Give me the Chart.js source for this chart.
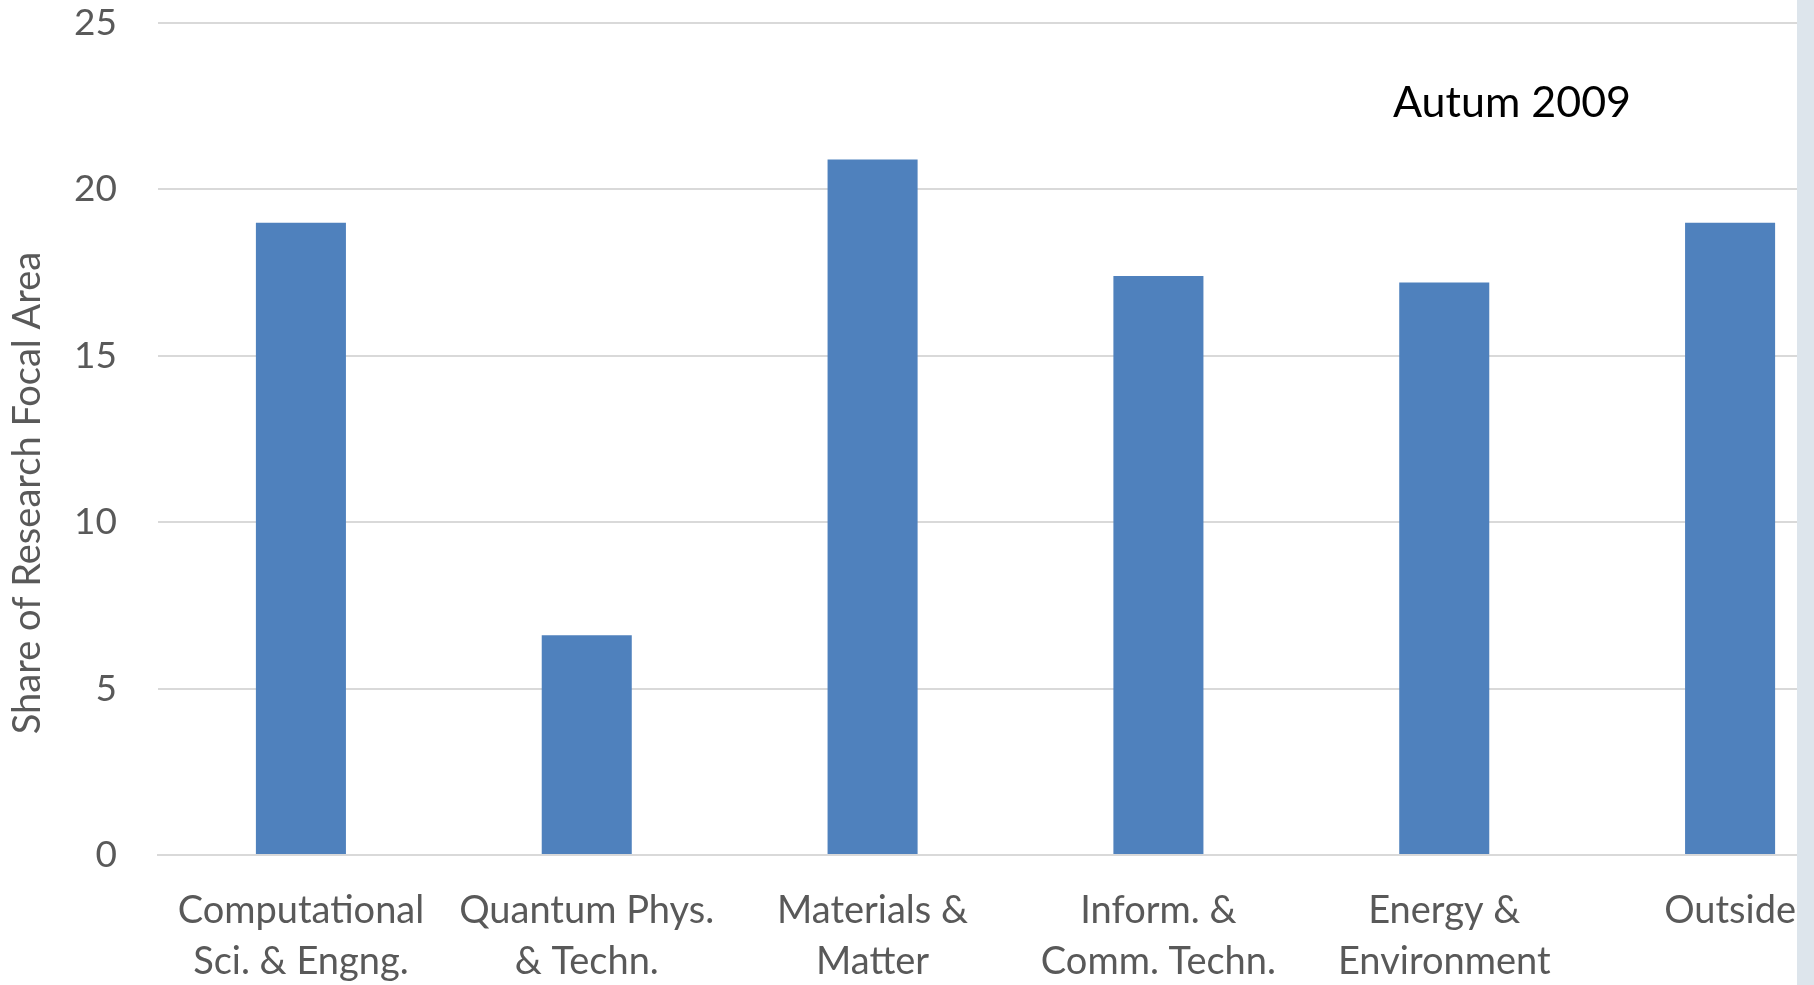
<!DOCTYPE html>
<html>
<head>
<meta charset="utf-8">
<title>Share of Research Focal Area – Autum 2009</title>
<script src="https://cdn.jsdelivr.net/npm/chart.js@4.4.1/dist/chart.umd.min.js"></script>
<style>
  html, body { margin: 0; padding: 0; background: #ffffff; overflow: hidden; }
  #wrap { position: relative; width: 1873px; height: 985px; }
  #edge { position: absolute; left: 1797px; top: 0; width: 17px; height: 985px; background: #dde5ec; }
</style>
</head>
<body>
<div id="wrap"><canvas id="chart"></canvas></div>
<div id="edge"></div>
<script>
// Research focal areas (two-line category labels)
const categories = [
  ['Computational', 'Sci. & Engng.'],
  ['Quantum Phys.', '& Techn.'],
  ['Materials &', 'Matter'],
  ['Inform. &', 'Comm. Techn.'],
  ['Energy &', 'Environment'],
  ['Outside']
];
// Share of research focal area, autumn 2009
const shares = [19.0, 6.6, 20.9, 17.4, 17.2, 19.0];
const yTicks = [0, 5, 10, 15, 20, 25];
const yTitle = 'Share of Research Focal Area';
const seasonLabel = 'Autum 2009';

const FONT = 'Lato, "Open Sans", sans-serif';
const TEXT_GREY = '#595959';

// Draws the rotated axis title and the season annotation
const textLayer = {
  id: 'textLayer',
  afterDraw(chart) {
    const ctx = chart.ctx;
    ctx.save();
    ctx.fillStyle = TEXT_GREY;
    ctx.font = '38px ' + FONT;
    ctx.textAlign = 'center';
    ctx.textBaseline = 'middle';
    ctx.translate(28, 493);
    ctx.rotate(-Math.PI / 2);
    ctx.fillText(yTitle, 0, 0);
    ctx.restore();

    ctx.save();
    ctx.fillStyle = '#000000';
    ctx.font = '43px ' + FONT;
    ctx.textAlign = 'center';
    ctx.textBaseline = 'alphabetic';
    ctx.fillText(seasonLabel, 1512, 117);
    ctx.restore();
  }
};

new Chart(document.getElementById('chart'), {
  type: 'bar',
  data: {
    labels: categories,
    datasets: [{
      data: shares,
      backgroundColor: '#4f81bd',
      borderWidth: 0,
      categoryPercentage: 1.0,
      barPercentage: 0.315
    }]
  },
  options: {
    responsive: true,
    maintainAspectRatio: false,
    animation: false,
    devicePixelRatio: 1,
    layout: { padding: { top: 23, left: 0, right: 0, bottom: 0 } },
    plugins: { legend: { display: false }, tooltip: { enabled: false } },
    scales: {
      x: {
        grid: { display: false, drawTicks: false },
        border: { display: true, color: '#d9d9d9', width: 2 },
        ticks: {
          color: TEXT_GREY,
          font: { family: FONT, size: 38, lineHeight: 1.34 },
          padding: 30,
          maxRotation: 0,
          autoSkip: false
        },
        afterFit(scale) {
          scale.height = 130;
          scale.paddingLeft = 0;
          scale.paddingRight = 0;
        }
      },
      y: {
        min: 0,
        max: 25,
        afterBuildTicks(scale) { scale.ticks = yTicks.map(v => ({ value: v })); },
        grid: { color: '#d9d9d9', lineWidth: 2, drawTicks: false },
        border: { display: false },
        ticks: {
          color: TEXT_GREY,
          font: { family: FONT, size: 37, lineHeight: 1 },
          padding: 41
        },
        afterFit(scale) {
          scale.width = 158;
          scale.paddingTop = 0;
          scale.paddingBottom = 0;
        }
      }
    }
  },
  plugins: [textLayer]
});
</script>
</body>
</html>
